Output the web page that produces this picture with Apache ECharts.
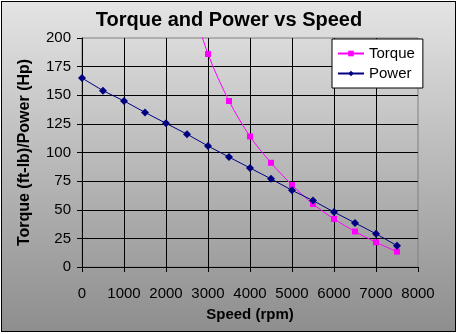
<!DOCTYPE html>
<html><head><meta charset="utf-8">
<script src="https://cdn.jsdelivr.net/npm/echarts@6/dist/echarts.min.js"></script>
<style>
html,body{margin:0;padding:0;background:#fff;}
#frame{position:absolute;left:1px;top:1px;width:453px;height:329px;border:1px solid #000;
background:linear-gradient(to bottom,#e4e4e4 0%,#b8b8b8 50%,#8e8e8e 100%);}
#chart{position:absolute;left:0;top:0;width:458px;height:334px;}
</style></head>
<body>
<div id="frame"></div>
<div id="chart"></div>
<script>
const titleText = 'Torque and Power vs Speed';
const xTitle = 'Speed (rpm)';
const yTitle = 'Torque (ft-lb)/Power (Hp)';
const powerSpeed = [0,500,1000,1500,2000,2500,3000,3500,4000,4500,5000,5500,6000,6500,7000,7500];
const powerHp = [165,154,145,135,125.5,116,105.7,96,86.5,77,67,58,48,38.5,29,18.6];
const torqueSpeed = [2500,3000,3500,4000,4500,5000,5500,6000,6500,7000,7500];
const torqueFtLb = [244,186,145,114,91,71.6,55,42,31,21.6,13.4];
const FONT = 'Arial, "Liberation Sans", sans-serif';

const chart = echarts.init(document.getElementById('chart'), null, {renderer:'canvas'});
chart.setOption({
  backgroundColor: 'transparent',
  animation: false,
  title: {
    text: titleText, left: 'center', top: 5,
    textStyle: {fontFamily: FONT, fontSize: 20, fontWeight: 'bold', color: '#000'}
  },
  legend: {
    orient: 'vertical', left: 332, top: 39,
    backgroundColor: '#fff', borderColor: '#000', borderWidth: 1, borderRadius: 0,
    padding: [7, 8, 7, 5], itemWidth: 26, itemHeight: 7, itemGap: 5,
    textStyle: {fontFamily: FONT, fontSize: 15, color: '#000'},
    data: ['Torque', 'Power']
  },
  grid: {
    left: 82, right: 40, top: 38, bottom: 67,
    show: true, borderColor: '#808080', borderWidth: 1, backgroundColor: 'transparent'
  },
  xAxis: {
    type: 'value', min: 0, max: 8000, interval: 1000,
    name: xTitle, nameLocation: 'middle', nameGap: 40,
    nameTextStyle: {fontFamily: FONT, fontSize: 15, fontWeight: 'bold', color: '#000'},
    axisLine: {show: true, lineStyle: {color: '#000', width: 1}},
    axisTick: {show: true, inside: false, length: 5, lineStyle: {color: '#000'}},
    axisLabel: {fontFamily: FONT, fontSize: 15, color: '#000', margin: 19, formatter: v => String(v)},
    splitLine: {show: true, showMinLine: false, showMaxLine: false, lineStyle: {color: '#000', width: 1}}
  },
  yAxis: {
    type: 'value', min: 0, max: 200, interval: 25,
    name: yTitle, nameLocation: 'middle', nameGap: 49, nameRotate: 90,
    nameTextStyle: {fontFamily: FONT, fontSize: 16, fontWeight: 'bold', color: '#000'},
    axisLine: {show: true, lineStyle: {color: '#000', width: 1}},
    axisTick: {show: true, inside: false, length: 5, lineStyle: {color: '#000'}},
    axisLabel: {fontFamily: FONT, fontSize: 15, color: '#000', margin: 11},
    splitLine: {show: true, showMinLine: false, showMaxLine: false, lineStyle: {color: '#000', width: 1}}
  },
  series: [
    {
      name: 'Torque', type: 'line', smooth: 0.3, clip: true,
      data: torqueSpeed.map((s, i) => [s, torqueFtLb[i]]),
      symbol: 'rect', symbolSize: 6, showSymbol: true,
      lineStyle: {color: '#ff00ff', width: 1},
      itemStyle: {color: '#ff00ff'}
    },
    {
      name: 'Power', type: 'line', smooth: false, clip: true,
      data: powerSpeed.map((s, i) => [s, powerHp[i]]),
      symbol: 'diamond', symbolSize: 8, showSymbol: true,
      lineStyle: {color: '#000080', width: 1},
      itemStyle: {color: '#000080'}
    }
  ]
});
</script>
</body></html>
